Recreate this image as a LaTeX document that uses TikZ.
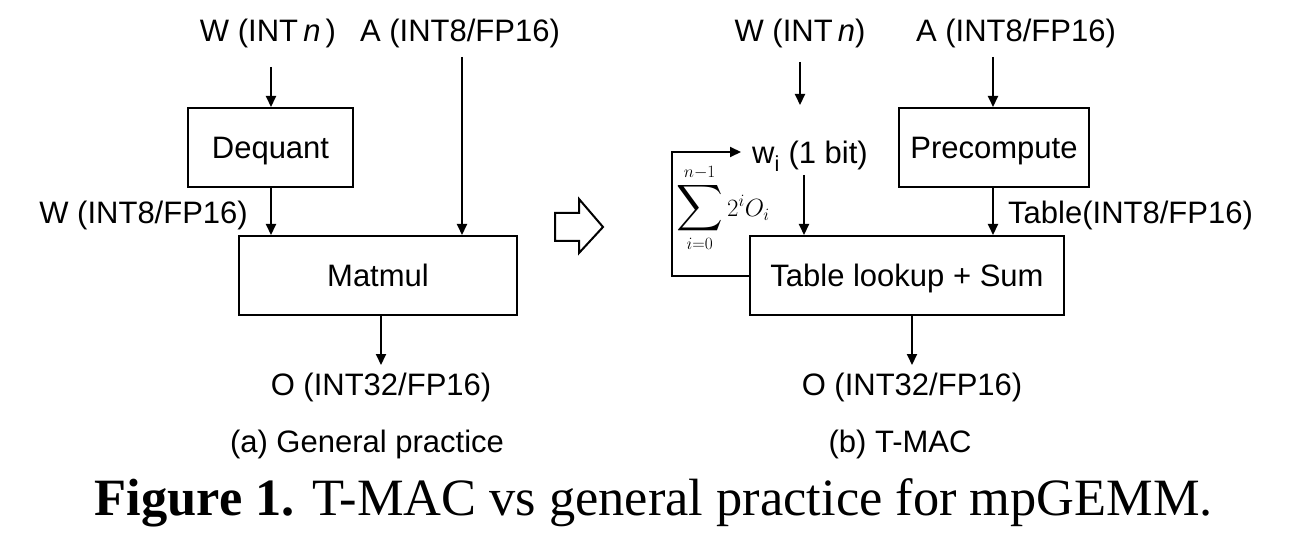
\documentclass[tikz,border=0pt]{standalone}
\usepackage{exscale}
\usepackage{graphicx}
\usepackage{fontspec}
\setmainfont{Liberation Sans}
\newfontfamily\capfont{Liberation Serif}
\usetikzlibrary{arrows.meta}
\tikzset{
  lbl/.style={font=\fontsize{31}{36}\selectfont, inner sep=0pt, text height=22pt, text depth=0pt},
  box/.style={draw, line width=2pt, inner sep=0pt, text height=22pt, text depth=0pt, font=\fontsize{31}{36}\selectfont},
  arr/.style={line width=2pt, -{Triangle[length=11pt,width=10pt]}},
}
\begin{document}
\begin{tikzpicture}[x=1pt,y=-1pt]
\useasboundingbox (0,0) rectangle (1301,537);
% ---------- left panel ----------
\node[lbl] (wl) at (268,30.5) {W (INT\,\textit{n}\,)};
\node[lbl] (al) at (460,30.5) {A (INT8/FP16)};
\node[box, minimum width=165pt, minimum height=79pt] (deq) at (270.5,147.5) {Dequant};
\node[box, minimum width=278pt, minimum height=79pt] (mm) at (378,275.5) {Matmul};
\node[lbl, anchor=east] (w8) at (248,213) {W (INT8/FP16)};
\node[lbl] (ol) at (381,384) {O (INT32/FP16)};
\node[lbl] (capa) at (367,441) {(a) General practice};
\coordinate (wls) at (271,67);
\coordinate (als) at (462,57);
\coordinate (mmo) at (381,315.5);
\coordinate (mme) at (381,365);
\draw[arr] (wls) -- (wls |- deq.north);
\draw[arr] (deq.south -| wls) -- (mm.north -| wls);
\draw[arr] (als) -- (als |- mm.north);
\draw[arr] (mmo) -- (mme);
% ---------- hollow arrow ----------
\draw[line width=2pt, line join=miter] (555,213) -- (579,213) -- (579,199) -- (603,227) -- (579,253) -- (579,241) -- (555,241) -- cycle;
% ---------- right panel ----------
\node[lbl] (wr) at (800,30.5) {W (INT\,\textit{n})};
\node[lbl] (ar) at (1016,30.5) {A (INT8/FP16)};
\node[lbl] (wi) at (810,153) {w\textsubscript{i} (1 bit)};
\node[box, minimum width=190pt, minimum height=79pt] (pre) at (994,147.5) {Precompute};
\node[box, minimum width=314pt, minimum height=79pt] (tl) at (907,275.5) {Table lookup + Sum};
\node[lbl, anchor=west] (tab) at (1008,213) {Table(INT8/FP16)};
\node[lbl] (or) at (912,384) {O (INT32/FP16)};
\node[lbl] (capb) at (900,441) {(b) T-MAC};
\node[inner sep=0pt, font=\fontsize{26}{30}\selectfont] (sum) at (723,208) {$\displaystyle\mathop{\scalebox{1.3}{$\displaystyle\sum$}}\limits_{i=0}^{n-1}2^iO_i$};
\coordinate (wrs) at (800,62);
\coordinate (wre) at (800,105);
\coordinate (wis) at (804,175);
\coordinate (ars) at (993,57);
\coordinate (tlo) at (912,315.5);
\coordinate (tle) at (912,365);
\coordinate (fbx) at (672,276);
\coordinate (fbt) at (741,152);
\draw[arr] (wrs) -- (wre);
\draw[arr] (wis) -- (wis |- tl.north);
\draw[arr] (ars) -- (ars |- pre.north);
\draw[arr] (pre.south -| ars) -- (tl.north -| ars);
\draw[arr] (tlo) -- (tle);
\draw[arr] (tl.west |- fbx) -- (fbx) -- (fbx |- fbt) -- (fbt);
% ---------- caption ----------
\node[inner sep=0pt] (cap) at (654,503) {\resizebox{1118pt}{!}{\capfont\fontsize{44}{50}\selectfont\textbf{Figure 1.} T-MAC vs general practice for mpGEMM.}};
\end{tikzpicture}
\end{document}
